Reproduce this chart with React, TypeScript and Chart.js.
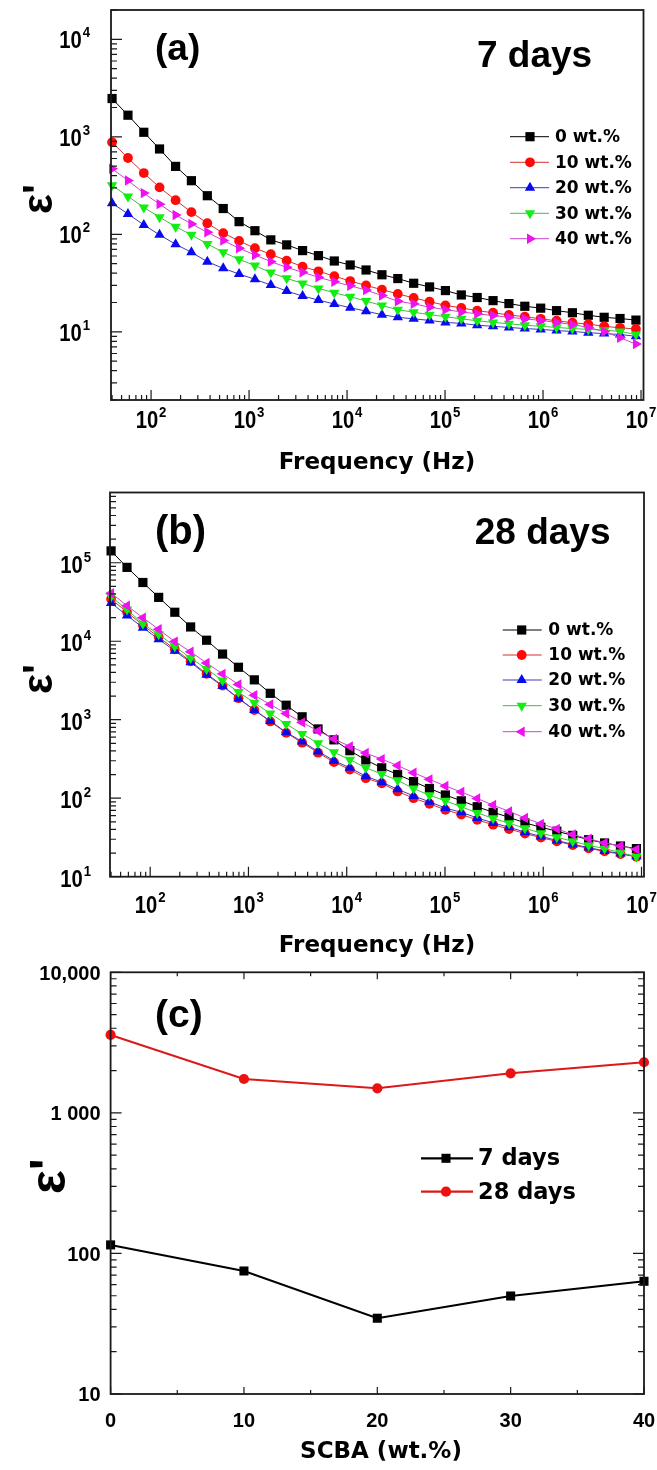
import React, { useEffect, useRef } from 'react';
import { Chart, registerables } from 'chart.js';

Chart.register(...registerables);

// ---------------- data ----------------
const FREQ_HZ = [40, 58.1, 84.3, 122, 178, 258, 375, 545, 791, 1148, 1667, 2421, 3516, 5105, 7413, 10765, 15631, 22699, 32961, 47863, 69502, 100925, 146555, 212814, 309030, 448745, 651628, 946237, 1374042, 1995262, 2897344, 4207266, 6109420, 8871560];

const SERIES_LABELS = ['0 wt.%', '10 wt.%', '20 wt.%', '30 wt.%', '40 wt.%'];

// (a) 7 days
const A_0 = [2472, 1667, 1114, 751, 498, 355, 249, 184, 135, 109, 87.8, 78, 68.1, 60.5, 53.3, 48.5, 43.1, 38.5, 35.2, 31.5, 28.9, 26.5, 23.9, 22.5, 20.9, 19.5, 18.3, 17.5, 16.5, 15.7, 14.8, 14.1, 13.7, 13.2];
const A_10 = [879, 607, 425, 303, 224, 169, 130, 103, 85.7, 72, 62.5, 53.8, 46.7, 41.8, 37.3, 33.2, 29.9, 27.1, 24.5, 22.3, 20.4, 18.7, 17.6, 16.5, 15.7, 14.9, 14.3, 13.6, 13.0, 12.4, 12.0, 11.4, 11.0, 10.7];
const A_20 = [209, 162, 125, 98.8, 79.2, 65.5, 52.5, 44.8, 39.2, 34.6, 30.2, 26.2, 23.3, 21.2, 19.3, 17.7, 16.3, 15.0, 14.1, 13.6, 13.1, 12.5, 12.2, 11.7, 11.4, 11.1, 10.8, 10.6, 10.3, 10.1, 9.8, 9.6, 9.4, 9.0];
const A_30 = [318, 245, 189, 150, 120, 98.8, 79.8, 65.5, 55.5, 47.8, 40.5, 35.4, 31.4, 27.9, 25.2, 22.9, 20.7, 18.6, 16.9, 15.9, 15.0, 14.3, 13.6, 13.0, 12.5, 12.1, 11.7, 11.4, 11.1, 10.8, 10.6, 10.4, 10.1, 9.4];
const A_40 = [471, 357, 265, 204, 158, 128, 105, 86.4, 72, 61.5, 52.5, 45.9, 40.8, 36.3, 32.7, 29.7, 26.8, 23.6, 20.6, 19.4, 17.9, 16.9, 16.0, 15.3, 14.7, 14.1, 13.6, 13.1, 12.5, 11.9, 11.1, 10.1, 8.7, 7.5];

// (b) 28 days
const B_0 = [141600, 87300, 56000, 36200, 23400, 15200, 10300, 6860, 4660, 3220, 2170, 1530, 1090, 763, 554, 403, 307, 244, 201, 163, 133, 110, 92.7, 77.9, 66.1, 57.1, 48.5, 42.7, 38.0, 33.6, 29.6, 26.9, 24.6, 22.8];
const B_10 = [34500, 23500, 16000, 11300, 7900, 5550, 3850, 2720, 1880, 1330, 950, 680, 510, 380, 288, 232, 180, 155, 122, 100, 85, 71, 62, 53, 46, 40.5, 35.5, 31.5, 28.2, 25.3, 23.0, 21.0, 19.4, 18.0];
const B_20 = [30700, 21300, 14900, 10600, 7550, 5380, 3730, 2680, 1860, 1330, 962, 692, 528, 395, 301, 244, 191, 160, 130, 107, 90.1, 75, 66.1, 56.1, 48.5, 42.7, 36.9, 32.6, 29.0, 25.8, 23.5, 21.3, 19.7, 18.2];
const B_30 = [37200, 25300, 16700, 12300, 8570, 6110, 4440, 3160, 2250, 1650, 1200, 882, 659, 503, 384, 310, 244, 204, 169, 133, 109, 92.7, 77.9, 64.9, 55.5, 48.0, 41.5, 35.9, 31.9, 28.2, 25.1, 22.8, 20.3, 17.9];
const B_40 = [41000, 28400, 19900, 14200, 9900, 7340, 5280, 3840, 2820, 2050, 1560, 1200, 925, 719, 570, 457, 376, 315, 261, 211, 174, 143, 120, 99.1, 81.8, 67.9, 56.1, 47.1, 40.7, 34.5, 30.5, 26.9, 24.6, 22.3];

// (c) epsilon' vs SCBA content
const SCBA_WT = [0, 10, 20, 30, 40];
const EPS_7_DAYS = [115, 75, 34.6, 49.8, 63.4];
const EPS_28_DAYS = [3583, 1742, 1496, 1910, 2291];
const C_LEGEND = ['7 days', '28 days'];

// tick labels
const X_DECADES = [2, 3, 4, 5, 6, 7];
const A_Y_DECADES = [1, 2, 3, 4];
const B_Y_DECADES = [1, 2, 3, 4, 5];
const C_Y_TICK_VALUES = [10, 100, 1000, 10000];
const C_Y_TICK_LABELS = ['10', '100', '1 000', '10,000'];
const C_X_TICK_VALUES = [0, 10, 20, 30, 40];
const C_X_TICK_LABELS = ['0', '10', '20', '30', '40'];

// ---------------- styling ----------------
const ARIAL = '"Liberation Sans", Arial, Helvetica, sans-serif';
const DEJAVU = '"DejaVu Sans", Verdana, sans-serif';
const W = 657;

type Mk = { fill: string; line: string; style: 'rect' | 'circle' | 'triangle'; rot: number; r: number };

const STYLES_A: Mk[] = [
  { fill: '#000000', line: '#000000', style: 'rect', rot: 0, r: 6.5 },
  { fill: '#ff0a0a', line: '#d83030', style: 'circle', rot: 0, r: 4.9 },
  { fill: '#0a0aee', line: '#3a3ab8', style: 'triangle', rot: 0, r: 6.0 },
  { fill: '#12ee12', line: '#3cc03c', style: 'triangle', rot: 180, r: 6.0 },
  { fill: '#ee12ee', line: '#cc44cc', style: 'triangle', rot: 90, r: 6.0 },
];
const STYLES_B: Mk[] = STYLES_A.map((s, i) => (i === 4 ? { ...s, rot: 270 } : s));

function logTicks(min: number, max: number) {
  const out: { value: number; major: boolean }[] = [];
  const e0 = Math.floor(Math.log10(min));
  const e1 = Math.ceil(Math.log10(max));
  for (let e = e0; e <= e1; e++) {
    for (let m = 1; m <= 9; m++) {
      const v = m * Math.pow(10, e);
      if (v >= min * 0.9999 && v <= max * 1.0001) out.push({ value: v, major: m === 1 });
    }
  }
  return out;
}

function drawMarker(ctx: CanvasRenderingContext2D, mk: Mk, x: number, y: number, r: number) {
  ctx.save();
  ctx.fillStyle = mk.fill;
  ctx.beginPath();
  if (mk.style === 'rect') {
    const s = Math.SQRT1_2 * r;
    ctx.rect(x - s, y - s, 2 * s, 2 * s);
  } else if (mk.style === 'circle') {
    ctx.arc(x, y, r, 0, Math.PI * 2);
  } else {
    let rad = (mk.rot * Math.PI) / 180;
    ctx.moveTo(x + Math.sin(rad) * r, y - Math.cos(rad) * r);
    rad += (2 * Math.PI) / 3;
    ctx.lineTo(x + Math.sin(rad) * r, y - Math.cos(rad) * r);
    rad += (2 * Math.PI) / 3;
    ctx.lineTo(x + Math.sin(rad) * r, y - Math.cos(rad) * r);
    ctx.closePath();
  }
  ctx.fill();
  ctx.restore();
}

function drawPow(ctx: CanvasRenderingContext2D, exp: string, x: number, baseline: number, align: 'center' | 'right') {
  const SX = 0.88;
  ctx.save();
  ctx.font = `bold 23px ${ARIAL}`;
  const wBase = ctx.measureText('10').width;
  ctx.font = `bold 15px ${ARIAL}`;
  const wExp = ctx.measureText(exp).width;
  const total = (wBase + 1 + wExp) * SX;
  const x0 = align === 'center' ? x - total / 2 : x - total;
  ctx.translate(x0, baseline);
  ctx.scale(SX, 1);
  ctx.textAlign = 'left';
  ctx.textBaseline = 'alphabetic';
  ctx.fillStyle = '#000';
  ctx.font = `bold 23px ${ARIAL}`;
  ctx.fillText('10', 0, 0);
  ctx.font = `bold 15px ${ARIAL}`;
  ctx.fillText(exp, wBase + 1, -11);
  ctx.restore();
}

function text(ctx: CanvasRenderingContext2D, s: string, x: number, y: number, font: string, align: CanvasTextAlign = 'left', base: CanvasTextBaseline = 'alphabetic') {
  ctx.font = font;
  ctx.textAlign = align;
  ctx.textBaseline = base;
  ctx.fillStyle = '#000';
  ctx.fillText(s, x, y);
}

function yTitle(ctx: CanvasRenderingContext2D, x: number, y: number, size: number) {
  ctx.save();
  ctx.translate(x, y);
  ctx.rotate(-Math.PI / 2);
  text(ctx, "ε'", 0, 0, `bold ${size}px ${ARIAL}`);
  ctx.restore();
}

type TickCfg = { xMajor: number; xMinor: number; yMajor: number; yMinor: number; mirror: boolean };

function drawTicksFrame(chart: any, t: TickCfg) {
  const ctx = chart.ctx as CanvasRenderingContext2D;
  const { left, right, top, bottom } = chart.chartArea;
  const xs = chart.scales.x;
  const ys = chart.scales.y;
  ctx.save();
  ctx.strokeStyle = '#1a1a1a';
  ctx.lineWidth = 1.2;
  ctx.beginPath();
  for (const tk of xs.ticks) {
    const px = xs.getPixelForValue(tk.value);
    if (px < left - 1 || px > right + 1) continue;
    const len = tk.major ? t.xMajor : t.xMinor;
    ctx.moveTo(px, bottom);
    ctx.lineTo(px, bottom - len);
    if (t.mirror) {
      ctx.moveTo(px, top);
      ctx.lineTo(px, top + len);
    }
  }
  for (const tk of ys.ticks) {
    const py = ys.getPixelForValue(tk.value);
    if (py < top - 1 || py > bottom + 1) continue;
    const len = tk.major ? t.yMajor : t.yMinor;
    ctx.moveTo(left, py);
    ctx.lineTo(left + len, py);
    if (t.mirror) {
      ctx.moveTo(right, py);
      ctx.lineTo(right - len, py);
    }
  }
  ctx.stroke();
  ctx.lineWidth = 1.8;
  ctx.strokeRect(left, top, right - left, bottom - top);
  ctx.restore();
}

// --------------- frequency panels ---------------
type FreqCfg = {
  oy: number;
  padTop: number;
  padRight: number;
  yW: number;
  xH: number;
  yMin: number;
  yMax: number;
  yDecades: number[];
  series: number[][];
  styles: Mk[];
  xLabelDy: number;
  yLabelRight: number;
  yLabelDy: number;
  tag: string;
  tagSize: number;
  tagX: number;
  tagY: number;
  age: string;
  ageX: number;
  ageY: number;
  titleY: number;
  yTitleX: number;
  yTitleY: number;
  legendRows: number[];
  legendLine: [number, number];
  legendMarkX: number;
  legendTextX: number;
};

const X_MIN = 39;
const X_MAX = 1.06e7;

function makeFreq(cfg: FreqCfg) {
  const plugin = {
    id: 'decorFreq',
    afterDatasetsDraw(chart: any) {
      const ctx = chart.ctx as CanvasRenderingContext2D;
      drawTicksFrame(chart, { xMajor: 10, xMinor: 5, yMajor: 11, yMinor: 6, mirror: false });
      const { bottom } = chart.chartArea;
      const xs = chart.scales.x;
      const ys = chart.scales.y;
      for (const d of X_DECADES) {
        drawPow(ctx, String(d), xs.getPixelForValue(Math.pow(10, d)), bottom + cfg.xLabelDy, 'center');
      }
      for (const d of cfg.yDecades) {
        drawPow(ctx, String(d), cfg.yLabelRight, ys.getPixelForValue(Math.pow(10, d)) + cfg.yLabelDy, 'right');
      }
      ctx.save();
      ctx.translate(0, -cfg.oy);
      text(ctx, cfg.tag, cfg.tagX, cfg.tagY, `bold ${cfg.tagSize}px ${ARIAL}`);
      text(ctx, cfg.age, cfg.ageX, cfg.ageY, `bold 37px ${ARIAL}`);
      text(ctx, 'Frequency (Hz)', 377, cfg.titleY, `bold 23px ${DEJAVU}`, 'center');
      yTitle(ctx, cfg.yTitleX, cfg.yTitleY, 42);
      cfg.legendRows.forEach((ry, i) => {
        const mk = cfg.styles[i];
        ctx.strokeStyle = mk.line;
        ctx.lineWidth = 1;
        ctx.beginPath();
        ctx.moveTo(cfg.legendLine[0], ry);
        ctx.lineTo(cfg.legendLine[1], ry);
        ctx.stroke();
        drawMarker(ctx, mk, cfg.legendMarkX, ry, mk.r);
        text(ctx, SERIES_LABELS[i], cfg.legendTextX, ry + 1, `bold 17px ${DEJAVU}`, 'left', 'middle');
      });
      ctx.restore();
    },
  };

  return {
    type: 'line' as const,
    data: {
      datasets: cfg.series.map((vals, i) => {
        const mk = cfg.styles[i];
        return {
          label: SERIES_LABELS[i],
          data: FREQ_HZ.map((f, j) => ({ x: f, y: vals[j] })),
          borderColor: mk.line,
          backgroundColor: mk.fill,
          borderWidth: 1,
          pointBackgroundColor: mk.fill,
          pointBorderWidth: 0,
          pointRadius: mk.r,
          pointStyle: mk.style,
          pointRotation: mk.rot,
          tension: 0,
          clip: false,
          order: 4 - i,
        };
      }),
    },
    options: {
      responsive: false,
      maintainAspectRatio: false,
      animation: false,
      events: [],
      layout: { padding: { top: cfg.padTop, right: cfg.padRight, left: 0, bottom: 0 } },
      plugins: { legend: { display: false }, tooltip: { enabled: false } },
      scales: {
        x: {
          type: 'logarithmic',
          min: X_MIN,
          max: X_MAX,
          afterBuildTicks: (s: any) => {
            s.ticks = logTicks(X_MIN, X_MAX);
          },
          afterFit: (s: any) => {
            s.height = cfg.xH;
          },
          grid: { display: false },
          border: { display: false },
          ticks: { display: false },
        },
        y: {
          type: 'logarithmic',
          min: cfg.yMin,
          max: cfg.yMax,
          afterBuildTicks: (s: any) => {
            s.ticks = logTicks(cfg.yMin, cfg.yMax);
          },
          afterFit: (s: any) => {
            s.width = cfg.yW;
          },
          grid: { display: false },
          border: { display: false },
          ticks: { display: false },
        },
      },
    },
    plugins: [plugin],
  };
}

function makePanelA() {
  return makeFreq({
    oy: 0,
    padTop: 10,
    padRight: 13.5,
    yW: 111,
    xH: 86,
    yMin: 2,
    yMax: 20000,
    yDecades: A_Y_DECADES,
    series: [A_0, A_10, A_20, A_30, A_40],
    styles: STYLES_A,
    xLabelDy: 28,
    yLabelRight: 90,
    yLabelDy: 9,
    tag: '(a)',
    tagSize: 37,
    tagX: 155,
    tagY: 60,
    age: '7 days',
    ageX: 477,
    ageY: 66.5,
    titleY: 469,
    yTitleX: 52,
    yTitleY: 214,
    legendRows: [136.7, 162.3, 187.7, 213.3, 238.7],
    legendLine: [510, 549],
    legendMarkX: 530,
    legendTextX: 555,
  });
}

function makePanelB() {
  return makeFreq({
    oy: 486,
    padTop: 2.3,
    padRight: 13,
    yW: 110,
    xH: 85.3,
    yMin: 10,
    yMax: 785000,
    yDecades: B_Y_DECADES,
    series: [B_0, B_10, B_20, B_30, B_40],
    styles: STYLES_B,
    xLabelDy: 36,
    yLabelRight: 91,
    yLabelDy: 10,
    tag: '(b)',
    tagSize: 40,
    tagX: 155,
    tagY: 543.6,
    age: '28 days',
    ageX: 474.7,
    ageY: 544,
    titleY: 952,
    yTitleX: 52,
    yTitleY: 694,
    legendRows: [630, 655, 680, 705.7, 731.7],
    legendLine: [502.7, 541.7],
    legendMarkX: 521.7,
    legendTextX: 548.3,
  });
}

// --------------- panel (c) ---------------
const C_STYLES: Mk[] = [
  { fill: '#000000', line: '#000000', style: 'rect', rot: 0, r: 6.4 },
  { fill: '#ee1111', line: '#dd1818', style: 'circle', rot: 0, r: 5.1 },
];

function makePanelC() {
  const OY = 962;
  const plugin = {
    id: 'decorC',
    afterDatasetsDraw(chart: any) {
      const ctx = chart.ctx as CanvasRenderingContext2D;
      drawTicksFrame(chart, { xMajor: 7, xMinor: 4, yMajor: 11, yMinor: 6, mirror: true });
      const { bottom } = chart.chartArea;
      const xs = chart.scales.x;
      const ys = chart.scales.y;
      C_X_TICK_VALUES.forEach((v, i) => {
        text(ctx, C_X_TICK_LABELS[i], xs.getPixelForValue(v), bottom + 33, `bold 20px ${ARIAL}`, 'center');
      });
      C_Y_TICK_VALUES.forEach((v, i) => {
        text(ctx, C_Y_TICK_LABELS[i], 100.5, ys.getPixelForValue(v) + 7.3, `bold 20px ${ARIAL}`, 'right');
      });
      ctx.save();
      ctx.translate(0, -OY);
      text(ctx, '(c)', 155, 1026.8, `bold 39px ${ARIAL}`);
      text(ctx, 'SCBA (wt.%)', 381, 1458, `bold 23px ${DEJAVU}`, 'center');
      yTitle(ctx, 65, 1194, 50);
      [1158.3, 1191.7].forEach((ry, i) => {
        const mk = C_STYLES[i];
        ctx.strokeStyle = mk.line;
        ctx.lineWidth = 2.2;
        ctx.beginPath();
        ctx.moveTo(421, ry);
        ctx.lineTo(473, ry);
        ctx.stroke();
        drawMarker(ctx, mk, 446, ry, mk.r);
        text(ctx, C_LEGEND[i], 478, ry + 1, `bold 22.5px ${DEJAVU}`, 'left', 'middle');
      });
      ctx.restore();
    },
  };
  const series = [EPS_7_DAYS, EPS_28_DAYS];
  return {
    type: 'line' as const,
    data: {
      datasets: series.map((vals, i) => {
        const mk = C_STYLES[i];
        return {
          label: C_LEGEND[i],
          data: SCBA_WT.map((x, j) => ({ x, y: vals[j] })),
          borderColor: mk.line,
          backgroundColor: mk.fill,
          borderWidth: 2,
          pointBackgroundColor: mk.fill,
          pointBorderWidth: 0,
          pointRadius: mk.r,
          pointStyle: mk.style,
          tension: 0,
          clip: false,
        };
      }),
    },
    options: {
      responsive: false,
      maintainAspectRatio: false,
      animation: false,
      events: [],
      layout: { padding: { top: 10.3, right: 13, left: 0, bottom: 0 } },
      plugins: { legend: { display: false }, tooltip: { enabled: false } },
      scales: {
        x: {
          type: 'linear',
          min: 0,
          max: 40,
          afterBuildTicks: (s: any) => {
            const t: { value: number; major: boolean }[] = [];
            for (let v = 0; v <= 40; v += 5) t.push({ value: v, major: v % 10 === 0 });
            s.ticks = t;
          },
          afterFit: (s: any) => {
            s.height = 76;
          },
          grid: { display: false },
          border: { display: false },
          ticks: { display: false },
        },
        y: {
          type: 'logarithmic',
          min: 10,
          max: 10000,
          afterBuildTicks: (s: any) => {
            s.ticks = logTicks(10, 10000);
          },
          afterFit: (s: any) => {
            s.width = 110.6;
          },
          grid: { display: false },
          border: { display: false },
          ticks: { display: false },
        },
      },
    },
    plugins: [plugin],
  };
}

function ChartCanvas({ top, height, make }: { top: number; height: number; make: () => any }) {
  const ref = useRef<HTMLCanvasElement>(null);
  useEffect(() => {
    const chart = new Chart(ref.current as HTMLCanvasElement, make());
    return () => chart.destroy();
  }, []);
  return (
    <canvas
      ref={ref}
      width={W}
      height={height}
      style={{ position: 'absolute', left: 0, top, width: W, height, display: 'block' }}
    />
  );
}

export default function App() {
  return (
    <div style={{ position: 'absolute', left: 0, top: 0, width: W, height: 1470, background: '#ffffff', overflow: 'hidden' }}>
      <ChartCanvas top={0} height={486} make={makePanelA} />
      <ChartCanvas top={486} height={476} make={makePanelB} />
      <ChartCanvas top={962} height={508} make={makePanelC} />
    </div>
  );
}
